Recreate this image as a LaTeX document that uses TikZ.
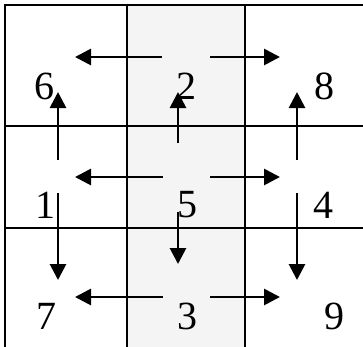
\documentclass[tikz,border=0pt]{standalone}
\usepackage{fontspec}
\setmainfont{Liberation Serif}
\usetikzlibrary{arrows.meta}
\begin{document}
\begin{tikzpicture}[x=1bp,y=-1bp,
  gridline/.style={line width=2.6bp,black},
  arr/.style={line width=2.8bp,-{Triangle[length=16bp,width=16bp]}},
  digit/.style={font=\fontsize{40bp}{40bp}\selectfont,inner sep=0pt,anchor=center}]
\useasboundingbox (0,0) rectangle (363,347);
\fill[white] (0,0) rectangle (363,347);
\fill[gray!9] (127,5) rectangle (245,347);
% grid
\draw[gridline] (5,347) -- (5,5) -- (363,5);
\draw[gridline] (127,5) -- (127,347);
\draw[gridline] (245,5) -- (245,347);
\draw[gridline] (5,126) -- (363,126);
\draw[gridline] (5,228) -- (363,228);
% labels
\node[digit] (n6) at (44,86) {6};
\node[digit] (n2) at (186,86) {2};
\node[digit] (n8) at (324,86) {8};
\node[digit] (n1) at (45,205) {1};
\node[digit] (n5) at (187,205) {5};
\node[digit] (n4) at (323,205) {4};
\node[digit] (n7) at (46,316) {7};
\node[digit] (n3) at (187,316) {3};
\node[digit] (n9) at (334,316) {9};
% arrow end points
\coordinate (tl0) at (162,57); \coordinate (tl1) at (75,57);
\coordinate (tr0) at (210,57); \coordinate (tr1) at (280,57);
\coordinate (ml0) at (163,177); \coordinate (ml1) at (75,177);
\coordinate (mr0) at (210,177); \coordinate (mr1) at (280,177);
\coordinate (bl0) at (163,297); \coordinate (bl1) at (75,297);
\coordinate (br0) at (210,297); \coordinate (br1) at (280,297);
\coordinate (au0) at (58,160); \coordinate (au1) at (58,92);
\coordinate (ad0) at (58,193); \coordinate (ad1) at (58,280);
\coordinate (cu0) at (178,143); \coordinate (cu1) at (178,92);
\coordinate (cd0) at (178,212); \coordinate (cd1) at (178,264);
\coordinate (eu0) at (297,160); \coordinate (eu1) at (297,92);
\coordinate (ed0) at (297,193); \coordinate (ed1) at (297,280);
% arrows
\foreach \a in {tl,tr,ml,mr,bl,br,au,ad,cu,cd,eu,ed}
  \draw[arr] (\a0) -- (\a1);
\end{tikzpicture}
\end{document}
